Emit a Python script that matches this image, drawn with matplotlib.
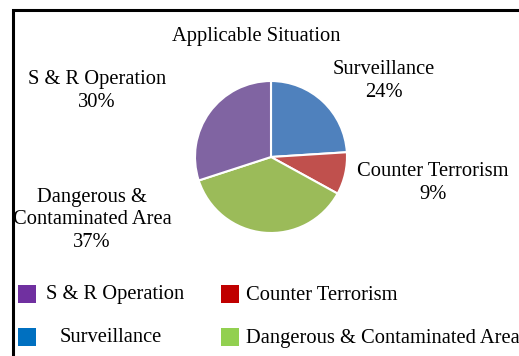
import matplotlib
matplotlib.use("Agg")
import matplotlib.pyplot as plt
from matplotlib.patches import Rectangle

# data
labels = ["Surveillance", "Counter Terrorism", "Dangerous &\nContaminated Area", "S & R Operation"]
shares = [24, 9, 37, 30]
pie_colors = ["#4F81BD", "#C0504D", "#9BBB59", "#8064A2"]

legend_labels = ["S & R Operation", "Counter Terrorism", "Surveillance", "Dangerous & Contaminated Area"]
legend_colors = ["#7030A0", "#C00000", "#0070C0", "#92D050"]

plt.rcParams["font.family"] = ["Liberation Serif", "DejaVu Serif"]

W, H = 519, 356
fig = plt.figure(figsize=(W / 100, H / 100), dpi=100)
fig.patch.set_facecolor("white")

# frame (cut off on the right and bottom)
fig.patches.append(Rectangle((13 / W, -0.1), 1.2, (H - 10) / H + 0.1, transform=fig.transFigure,
                             fill=False, edgecolor="black", linewidth=2.2))

# pie: centre (271, 157), radius 76 px
r = 76
ax = fig.add_axes([(271 - r) / W, (H - 157 - r) / H, 2 * r / W, 2 * r / H])
ax.pie(shares, colors=pie_colors, startangle=90, counterclock=False,
       wedgeprops=dict(edgecolor="white", linewidth=1.5))
ax.set_xlim(-1, 1)
ax.set_ylim(-1, 1)
ax.set_aspect("equal")
ax.axis("off")

fs = 14.8
fig.text(256 / W, 1 - 36 / H, "Applicable Situation", ha="center", va="center", fontsize=fs)

label_pos = [(384, 81), (433, 183), (92, 220), (97, 91)]
for lab, val, (x, y) in zip(labels, shares, label_pos):
    fig.text(x / W, 1 - y / H, "%s\n%d%%" % (lab, val), ha="center", va="center",
             fontsize=fs, linespacing=1.22)

# legend drawn by hand
sq = 18
leg_pos = [(18, 285, 46), (221, 285, 246), (18, 328, 60), (221, 328, 246)]
for lab, col, (x, y, tx) in zip(legend_labels, legend_colors, leg_pos):
    fig.patches.append(Rectangle((x / W, 1 - (y + sq) / H), sq / W, sq / H,
                                 transform=fig.transFigure, facecolor=col, edgecolor="none"))
    fig.text(tx / W, 1 - (y + sq / 2 + 1) / H, lab, ha="left", va="center", fontsize=fs)

fig.savefig("out.png", dpi=100)
